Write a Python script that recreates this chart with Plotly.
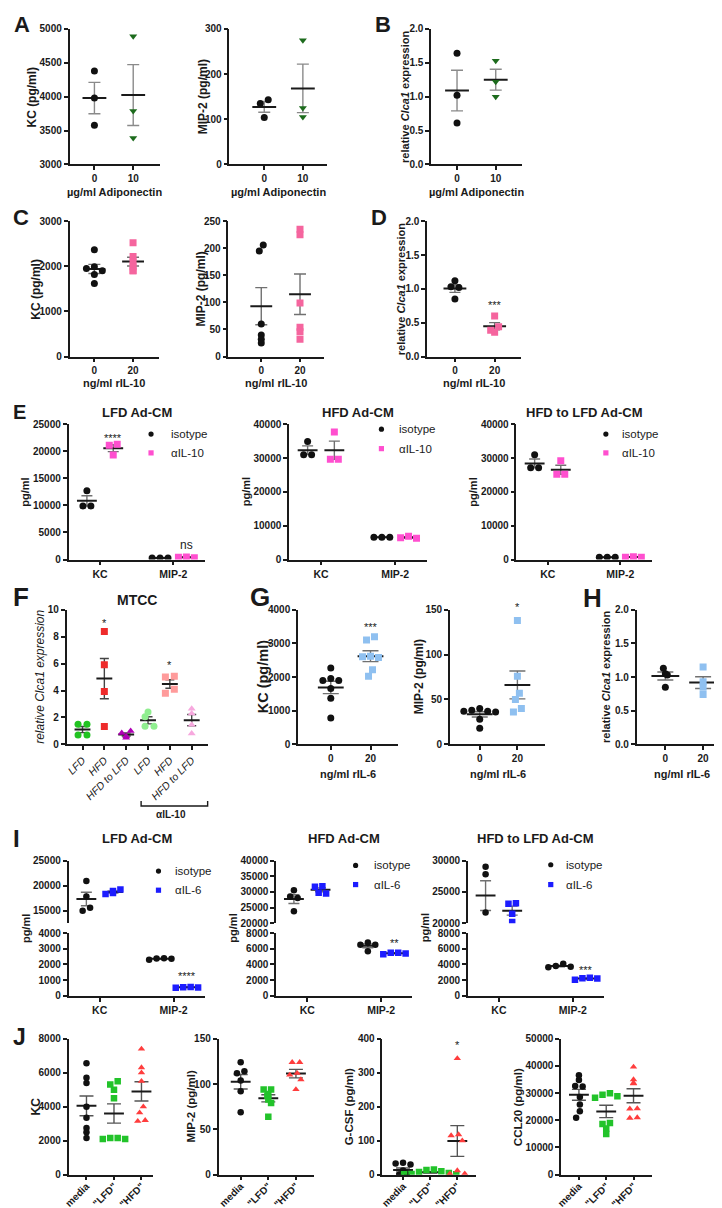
import numpy as np
import plotly.graph_objects as go

W, H = 722, 1208
FONT = "Liberation Sans, Arial, Helvetica, sans-serif"
INK = "#1a1a1a"
ERR = "#707070"

# ---------------- data ----------------
ADIPO_LEVELS = ["0", "10"]
IL10_LEVELS = ["0", "20"]
IL6_LEVELS = ["0", "20"]
CYTOKINES = ["KC", "MIP-2"]
F_GROUPS = ["LFD", "HFD", "HFD to LFD", "LFD", "HFD", "HFD to LFD"]
J_GROUPS = ["media", '"LFD"', '"HFD"']

# A / B
A_KC_0 = [4380, 3980, 3580]
A_KC_10 = [4890, 3790, 3390]
A_MIP_0 = [143, 135, 104]
A_MIP_10 = [275, 125, 105]
B_CLCA_0 = [1.64, 1.02, 0.61]
B_CLCA_10 = [1.53, 1.22, 1.00]
# C / D
C_KC_0 = [2370, 1990, 1950, 1900, 1820, 1620]
C_KC_20 = [2520, 2220, 2100, 1990, 1900, 1900]
C_MIP_0 = [206, 195, 60, 40, 32, 25]
C_MIP_20 = [235, 225, 99, 54, 46, 32]
D_CLCA_0 = [1.12, 1.03, 1.02, 0.85]
D_CLCA_20 = [0.60, 0.44, 0.39, 0.36]
# E
E_LFD_ISO_KC = [12700, 9900, 9900]
E_LFD_AB_KC = [21300, 21100, 19300]
E_LFD_ISO_MIP = [300, 300, 300]
E_LFD_AB_MIP = [450, 400, 350]
E_HFD_ISO_KC = [34900, 31000, 31000]
E_HFD_AB_KC = [37700, 29600, 29600]
E_HFD_ISO_MIP = [6600, 6600, 6600]
E_HFD_AB_MIP = [6900, 6400, 6300]
E_H2L_ISO_KC = [31000, 27100, 27100]
E_H2L_AB_KC = [29200, 25200, 25200]
E_H2L_ISO_MIP = [700, 700, 700]
E_H2L_AB_MIP = [800, 700, 700]
# F
F_LFD = [1.5, 1.5, 0.7, 0.7]
F_HFD = [8.38, 5.91, 3.93, 1.32]
F_H2L = [1.0, 0.85, 0.6, 0.5]
F_AB_LFD = [2.4, 2.05, 1.35, 1.35]
F_AB_HFD = [5.05, 5.0, 4.1, 3.8]
F_AB_H2L = [2.65, 2.3, 1.45, 0.8]
# G / H
G_KC_0 = [2270, 1960, 1900, 1900, 1660, 1370, 780]
G_KC_20 = [3200, 3100, 2620, 2600, 2580, 2220, 2020]
G_MIP_0 = [40, 38, 37, 37, 36, 28, 18]
G_MIP_20 = [138, 76, 57, 50, 40, 36]
H_CLCA_0 = [1.13, 1.05, 1.03, 0.85]
H_CLCA_20 = [1.15, 0.93, 0.85, 0.74]
# I
I_LFD_ISO_KC = [20900, 17800, 15600, 15000]
I_LFD_AB_KC = [19200, 18900, 18500, 18300]
I_LFD_ISO_MIP = [2400, 2380, 2360, 2300]
I_LFD_AB_MIP = [560, 550, 540, 520]
I_HFD_ISO_KC = [30500, 28500, 28000, 23800]
I_HFD_AB_KC = [31800, 31600, 29700, 29500]
I_HFD_ISO_MIP = [6800, 6500, 6500, 5700]
I_HFD_AB_MIP = [5500, 5500, 5400, 5300]
I_H2L_ISO_KC = [29000, 27800, 21700, 19100]
I_H2L_AB_KC = [23200, 23100, 21500, 20200]
I_H2L_ISO_MIP = [4100, 3800, 3700, 3650]
I_H2L_AB_MIP = [2300, 2250, 2200, 2050]
# J
J_KC_MEDIA = [6550, 5700, 5400, 4000, 3350, 2750, 2500, 2150]
J_KC_LFD = [5500, 5300, 5000, 4500, 2150, 2100, 2100, 2150]
J_KC_HFD = [7400, 6300, 6000, 5500, 4000, 3650, 3200, 3150]
J_MIP_MEDIA = [124, 114, 112, 104, 92, 69]
J_MIP_LFD = [94, 94, 89, 87, 83, 79, 64]
J_MIP_HFD = [124, 124, 112, 110, 105, 94]
J_GCSF_MEDIA = [35, 33, 30, 12, 1, 0, 0, 0]
J_GCSF_LFD = [15, 14, 10, 8, 5, 2, 1, 1]
J_GCSF_HFD = [342, 118, 115, 100, 12, 3, 3]
J_CCL_MEDIA = [36600, 34800, 32600, 32400, 28600, 25800, 23300, 20900]
J_CCL_LFD = [29900, 29400, 28800, 28300, 19000, 18600, 17000, 15000]
J_CCL_HFD = [39600, 35000, 33700, 33500, 24300, 24200, 21000, 20800]

# tick values
A_KC_TICKS = [3000, 3500, 4000, 4500, 5000]
A_MIP_TICKS = [0, 100, 200, 300]
CLCA_TICKS = [0.0, 0.5, 1.0, 1.5, 2.0]
C_KC_TICKS = [0, 1000, 2000, 3000]
C_MIP_TICKS = [0, 50, 100, 150, 200, 250]
E_LFD_TICKS = [0, 5000, 10000, 15000, 20000, 25000]
E_HFD_TICKS = [0, 10000, 20000, 30000, 40000]
F_TICKS = [0, 2, 4, 6, 8, 10]
G_KC_TICKS = [0, 1000, 2000, 3000, 4000]
G_MIP_TICKS = [0, 50, 100, 150]
I_LFD_TOP_TICKS = [15000, 20000, 25000]
I_LFD_BOT_TICKS = [0, 1000, 2000, 3000, 4000]
I_HFD_TOP_TICKS = [20000, 25000, 30000, 35000, 40000]
I_H2L_TOP_TICKS = [20000, 25000, 30000]
I_BOT_TICKS = [0, 2000, 4000, 6000, 8000]
J_KC_TICKS = [0, 2000, 4000, 6000, 8000]
J_MIP_TICKS = [0, 50, 100, 150]
J_GCSF_TICKS = [0, 100, 200, 300, 400]
J_CCL_TICKS = [0, 10000, 20000, 30000, 40000, 50000]

# colours
BLACK = "#111111"
DGREEN = "#1d6b1d"
PINK = "#f5659e"
MAGENTA = "#ff4fcf"
F_COLORS = ["#22c322", "#ee2b2b", "#b000b5", "#90ee90", "#ff9b9b", "#f7a8de"]
LBLUE = "#8fc0f0"
BLUE = "#1c1cff"
JGREEN = "#22c32a"
JRED = "#ff3d3d"

# ---------------- helpers ----------------
fig = go.Figure()
lay = {}
ann = []
shp = []
_n = [0]


def bfont(size=10, weight="bold", style="normal", color=INK):
    return dict(family=FONT, size=size, color=color, weight=weight, style=style)


class Ax:
    def __init__(self, xl, xr, yt, yb, xrange, yrange, yticks, ydec=0,
                 xticks=None, xtext=None, show_x=True, xangle=0, xfont=None, yfont=None,
                 xstandoff=0):
        _n[0] += 1
        k = _n[0]
        s = "" if k == 1 else str(k)
        self.x, self.y = "x" + s, "y" + s
        self.xl, self.xr, self.yt, self.yb = xl, xr, yt, yb
        self.kx = (xr - xl) / (xrange[1] - xrange[0])
        self.ky = (yb - yt) / (yrange[1] - yrange[0])
        tf = yfont or bfont(10)
        has_x = show_x and xticks is not None
        lay["xaxis" + s] = dict(
            domain=[xl / W, xr / W], range=xrange, anchor=self.y,
            showline=show_x, linecolor=INK, linewidth=1.6,
            ticks="outside" if has_x else "", ticklen=4, tickwidth=1.6, tickcolor=INK,
            tickvals=xticks if has_x else [], ticktext=xtext if has_x else [],
            showticklabels=has_x, tickfont=xfont or bfont(10), tickangle=xangle,
            ticklabelstandoff=xstandoff,
            showgrid=False, zeroline=False, fixedrange=True)
        lay["yaxis" + s] = dict(
            domain=[1 - yb / H, 1 - yt / H], range=yrange, anchor=self.x,
            showline=True, linecolor=INK, linewidth=1.6,
            ticks="outside", ticklen=4, tickwidth=1.6, tickcolor=INK,
            tickvals=yticks, ticktext=[f"{v:.{ydec}f}" for v in yticks],
            tickfont=tf, showgrid=False, zeroline=False, fixedrange=True)


def swarm(vals, ky, d):
    n = len(vals)
    order = sorted(range(n), key=lambda i: -vals[i])
    cands = [0.0]
    for k in range(1, 14):
        cands += [-k * d / 2, k * d / 2]
    pos = {}
    for i in order:
        y = vals[i] * ky
        for c in cands:
            if all((c - px) ** 2 + (y - py) ** 2 >= (0.9 * d) ** 2 for px, py in pos.values()):
                pos[i] = (c, y)
                break
    parent = {i: i for i in pos}

    def find(i):
        while parent[i] != i:
            i = parent[i]
        return i
    idx = list(pos)
    for a in idx:
        for b in idx:
            if a < b:
                (xa, ya), (xb, yb) = pos[a], pos[b]
                if (xa - xb) ** 2 + (ya - yb) ** 2 < (1.1 * d) ** 2:
                    parent[find(a)] = find(b)
    groups = {}
    for i in idx:
        groups.setdefault(find(i), []).append(i)
    out = [0.0] * n
    for g in groups.values():
        m = np.mean([pos[i][0] for i in g])
        for i in g:
            out[i] = pos[i][0] - m
    return out


def dots(ax, xc, vals, color, symbol="circle", size=7, half=12, cap=6,
         err=ERR, spacing=None):
    vals = list(vals)
    d = spacing if spacing else size + 1
    offs = swarm(vals, ax.ky, d)
    xs = [xc + o / ax.kx for o in offs]
    m = float(np.mean(vals))
    sem = float(np.std(vals, ddof=1) / np.sqrt(len(vals)))
    fig.add_trace(go.Scatter(
        x=[xc], y=[m], xaxis=ax.x, yaxis=ax.y, mode="markers",
        marker=dict(size=1, color="rgba(0,0,0,0)"),
        error_y=dict(type="data", array=[sem], visible=True, color=err,
                     thickness=1.4, width=cap), hoverinfo="skip"))
    fig.add_trace(go.Scatter(
        x=[xc - half / ax.kx, xc + half / ax.kx], y=[m, m], xaxis=ax.x, yaxis=ax.y,
        mode="lines", line=dict(color=INK, width=2), hoverinfo="skip"))
    fig.add_trace(go.Scatter(
        x=xs, y=vals, xaxis=ax.x, yaxis=ax.y, mode="markers",
        marker=dict(size=size, color=color, symbol=symbol, line=dict(width=0))))


def sig(ax, xc, vals, text, shift, size=11):
    ann.append(dict(text=text, x=xc, y=max(vals), xref=ax.x, yref=ax.y, yshift=shift,
                    showarrow=False, font=bfont(size, weight="normal"),
                    xanchor="center", yanchor="middle"))


def ytitle(ax, text, offset, size=12, weight="bold", style="normal", yc=None):
    yc = yc if yc is not None else (ax.yt + ax.yb) / 2
    ann.append(dict(text=text, x=(ax.xl - offset) / W, y=1 - yc / H, xref="paper",
                    yref="paper", textangle=-90, showarrow=False,
                    font=bfont(size, weight=weight, style=style),
                    xanchor="center", yanchor="middle"))


def label(text, cx, cy, size=11, weight="bold", xanchor="center", style="normal"):
    ann.append(dict(text=text, x=cx / W, y=1 - cy / H, xref="paper", yref="paper",
                    showarrow=False, font=bfont(size, weight=weight, style=style),
                    xanchor=xanchor, yanchor="middle"))


def xtitle(ax, text, cy, size=11):
    label(text, (ax.xl + ax.xr) / 2, cy, size)


def legend_glyph(cx, cy, color, kind, r=2.6):
    shp.append(dict(type=kind, xref="paper", yref="paper", xsizemode="pixel",
                    ysizemode="pixel", xanchor=cx / W, yanchor=1 - cy / H,
                    x0=-r, x1=r, y0=-r, y1=r, fillcolor=color, line=dict(width=0)))


def mini_legend(mx, tx, y1, y2, name2, color2):
    legend_glyph(mx, y1, BLACK, "circle")
    legend_glyph(mx, y2, color2, "rect")
    label("isotype", tx, y1, 11.5, weight="normal", xanchor="left")
    label(name2, tx, y2, 11.5, weight="normal", xanchor="left")


# ---------------- Row 1: A, B ----------------
a1 = Ax(57, 148, 15, 152, [-0.64, 1.69], [3000, 5000], A_KC_TICKS, xticks=[0, 1], xtext=ADIPO_LEVELS)
dots(a1, 0, A_KC_0, BLACK, err="#8a8a8a")
dots(a1, 1, A_KC_10, DGREEN, "triangle-down", err="#8a8a8a")
ytitle(a1, "KC (pg/ml)", 38)
xtitle(a1, "µg/ml Adiponectin", 180)

a2 = Ax(218, 316, 15, 152, [-0.9, 1.62], [0, 300], A_MIP_TICKS, xticks=[0, 1], xtext=ADIPO_LEVELS)
dots(a2, 0, A_MIP_0, BLACK, err="#8a8a8a")
dots(a2, 1, A_MIP_10, DGREEN, "triangle-down", err="#8a8a8a")
ytitle(a2, "MIP-2 (pg/ml)", 27)
xtitle(a2, "µg/ml Adiponectin", 180)

b1 = Ax(421, 513, 15, 152, [-0.67, 1.69], [0, 2], CLCA_TICKS, ydec=1, xticks=[0, 1], xtext=ADIPO_LEVELS)
dots(b1, 0, B_CLCA_0, BLACK, err="#8a8a8a")
dots(b1, 1, B_CLCA_10, DGREEN, "triangle-down", err="#8a8a8a")
ytitle(b1, "relative <i>Clca1</i> expression", 27, size=11)
xtitle(b1, "µg/ml Adiponectin", 180)

# ---------------- Row 2: C, D ----------------
c1 = Ax(57, 147, 209.3, 346, [-0.64, 1.67], [0, 3000], C_KC_TICKS, xticks=[0, 1], xtext=IL10_LEVELS)
dots(c1, 0, C_KC_0, BLACK, half=11)
dots(c1, 1, C_KC_20, PINK, "square", half=11)
ytitle(c1, "KC (pg/ml)", 34)
xtitle(c1, "ng/ml rIL-10", 373)

c2 = Ax(217, 313, 209.3, 346, [-0.846, 1.615], [0, 250], C_MIP_TICKS, xticks=[0, 1], xtext=IL10_LEVELS)
dots(c2, 0, C_MIP_0, BLACK, half=11)
dots(c2, 1, C_MIP_20, PINK, "square", half=11)
ytitle(c2, "MIP-2 (pg/ml)", 28)
xtitle(c2, "ng/ml rIL-10", 373)

d1 = Ax(417, 512, 209.3, 346, [-0.7, 1.675], [0, 2], CLCA_TICKS, ydec=1, xticks=[0, 1], xtext=IL10_LEVELS)
dots(d1, 0, D_CLCA_0, BLACK, half=11.5, cap=5.5)
dots(d1, 1, D_CLCA_20, PINK, "square", half=11.5, cap=5.5)
sig(d1, 1, D_CLCA_20, "***", 11)
ytitle(d1, "relative <i>Clca1</i> expression", 26, size=11)
xtitle(d1, "ng/ml rIL-10", 373)

# ---------------- Row 3: E ----------------
EOFF = 0.18
E_TOP, E_BOT = 414.3, 551
e_specs = [
    (56, 193, [0, 25000], E_LFD_TICKS, "LFD Ad-CM",
     E_LFD_ISO_KC, E_LFD_AB_KC, E_LFD_ISO_MIP, E_LFD_AB_MIP, (139, 157, 424.3, 443.3)),
    (278, 417, [0, 40000], E_HFD_TICKS, "HFD Ad-CM",
     E_HFD_ISO_KC, E_HFD_AB_KC, E_HFD_ISO_MIP, E_HFD_AB_MIP, (371, 387, 419.3, 439)),
    (507, 643, [0, 40000], E_HFD_TICKS, "HFD to LFD Ad-CM",
     E_H2L_ISO_KC, E_H2L_AB_KC, E_H2L_ISO_MIP, E_H2L_AB_MIP, (597, 611, 424.3, 443.3)),
]
e_axes = []
for xl, xr, yr, ticks, title, iso_kc, ab_kc, iso_mip, ab_mip, lg in e_specs:
    ax = Ax(xl, xr, E_TOP, E_BOT, [-0.43, 1.43], yr, ticks, xticks=[0, 1], xtext=CYTOKINES,
            xfont=bfont(10.5))
    dots(ax, 0 - EOFF, iso_kc, BLACK, half=10, cap=5.5)
    dots(ax, 0 + EOFF, ab_kc, MAGENTA, "square", half=10, cap=5.5)
    dots(ax, 1 - EOFF, iso_mip, BLACK, half=10, cap=5.5)
    dots(ax, 1 + EOFF, ab_mip, MAGENTA, "square", half=10, cap=5.5)
    ytitle(ax, "pg/ml", 44, size=11)
    label(title, (xl + xr) / 2, 403, 13)
    mini_legend(lg[0], lg[1], lg[2], lg[3], "αIL-10", MAGENTA)
    e_axes.append(ax)
sig(e_axes[0], 0 + EOFF, E_LFD_AB_KC, "****", 6)
sig(e_axes[0], 1 + EOFF, E_LFD_AB_MIP, "ns", 12, size=12)

# ---------------- Row 4: F, G, H ----------------
R4_TOP, R4_BOT = 601.7, 737.7
f1 = Ax(54, 196, R4_TOP, R4_BOT, [-0.727, 5.73], [0, 10], F_TICKS,
        xticks=list(range(6)), xtext=F_GROUPS, xangle=-45,
        xfont=bfont(10.5, weight="normal", style="italic"))
f_data = [F_LFD, F_HFD, F_H2L, F_AB_LFD, F_AB_HFD, F_AB_H2L]
f_sym = ["circle", "square", "triangle-up", "circle", "square", "triangle-up"]
for i, (vals, col, sym) in enumerate(zip(f_data, F_COLORS, f_sym)):
    dots(f1, i, vals, col, sym, half=8, cap=4.5, err="#444444", spacing=9)
sig(f1, 1, F_HFD, "*", 9)
sig(f1, 4, F_AB_HFD, "*", 11)
ytitle(f1, "relative Clca1 expression", 27, size=12, weight="normal", style="italic")
label("MTCC", (f1.xl + f1.xr) / 2, 591.7, 14)
# αIL-10 bracket
bx0, bx1, by, bh = 129, 196, 800, 5
shp.append(dict(type="path", xref="paper", yref="paper",
                path=f"M {bx0 / W},{1 - (by - bh) / H} L {bx0 / W},{1 - by / H} "
                     f"L {bx1 / W},{1 - by / H} L {bx1 / W},{1 - (by - bh) / H}",
                line=dict(color=INK, width=1.4)))
label("αIL-10", (bx0 + bx1) / 2 - 3, 809, 10)

g1 = Ax(287, 388, R4_TOP, R4_BOT, [-0.825, 1.7], [0, 4000], G_KC_TICKS, xticks=[0, 1], xtext=IL6_LEVELS)
dots(g1, 0, G_KC_0, BLACK, half=13, cap=8)
dots(g1, 1, G_KC_20, LBLUE, "square", half=13, cap=8)
sig(g1, 1, G_KC_20, "***", 10)
ytitle(g1, "KC (pg/ml)", 35, size=14.5)
xtitle(g1, "ng/ml rIL-6", 768)

g2 = Ax(440, 536, R4_TOP, R4_BOT, [-0.79, 1.74], [0, 150], G_MIP_TICKS, xticks=[0, 1], xtext=IL6_LEVELS)
dots(g2, 0, G_MIP_0, BLACK, half=13, cap=8)
dots(g2, 1, G_MIP_20, LBLUE, "square", half=13, cap=8)
sig(g2, 1, G_MIP_20, "*", 13)
ytitle(g2, "MIP-2 (pg/ml)", 31)
xtitle(g2, "ng/ml rIL-6", 768)

h1 = Ax(628, 720, R4_TOP, R4_BOT, [-0.76, 1.66], [0, 2], CLCA_TICKS, ydec=1, xticks=[0, 1], xtext=IL6_LEVELS)
dots(h1, 0, H_CLCA_0, BLACK, half=14, cap=8)
dots(h1, 1, H_CLCA_20, LBLUE, "square", half=14, cap=8)
ytitle(h1, "relative <i>Clca1</i> expression", 31, size=11)
xtitle(h1, "ng/ml rIL-6", 768)

# ---------------- Row 5: I (broken axes) ----------------
T_TOP, T_BOT, B_TOP, B_BOT = 855, 918.3, 928.3, 991.7
i_specs = [
    (56, 193, [12500, 25000], I_LFD_TOP_TICKS, [0, 4000], I_LFD_BOT_TICKS, "LFD Ad-CM",
     I_LFD_ISO_KC, I_LFD_AB_KC, I_LFD_ISO_MIP, I_LFD_AB_MIP, (146.5, 161, 865.7, 885)),
    (265, 402, [20000, 40000], I_HFD_TOP_TICKS, [0, 8000], I_BOT_TICKS, "HFD Ad-CM",
     I_HFD_ISO_KC, I_HFD_AB_KC, I_HFD_ISO_MIP, I_HFD_AB_MIP, (345, 362, 860, 879.3)),
    (458, 595, [20000, 30000], I_H2L_TOP_TICKS, [0, 8000], I_BOT_TICKS, "HFD to LFD Ad-CM",
     I_H2L_ISO_KC, I_H2L_AB_KC, I_H2L_ISO_MIP, I_H2L_AB_MIP, (541.5, 555, 859.3, 879.3)),
]
i_bots = []
for xl, xr, tr, tt, br, bt, title, iso_kc, ab_kc, iso_mip, ab_mip, lg in i_specs:
    top = Ax(xl, xr, T_TOP, T_BOT, [-0.42, 1.42], tr, tt, show_x=False)
    bot = Ax(xl, xr, B_TOP, B_BOT, [-0.42, 1.42], br, bt, xticks=[0, 1], xtext=CYTOKINES,
             xfont=bfont(10.5))
    dots(top, 0 - EOFF, iso_kc, BLACK, size=6.5, half=10, cap=5.5)
    dots(top, 0 + EOFF, ab_kc, BLUE, "square", size=6.5, half=10, cap=5.5)
    dots(bot, 1 - EOFF, iso_mip, BLACK, size=6.5, half=10, cap=5.5)
    dots(bot, 1 + EOFF, ab_mip, BLUE, "square", size=6.5, half=10, cap=5.5)
    ytitle(bot, "pg/ml", 43, size=11, yc=(T_TOP + B_BOT) / 2)
    label(title, (xl + xr) / 2, 833, 13)
    mini_legend(lg[0], lg[1], lg[2], lg[3], "αIL-6", BLUE)
    i_bots.append(bot)
sig(i_bots[0], 1 + EOFF, I_LFD_AB_MIP, "****", 11)
sig(i_bots[1], 1 + EOFF, I_HFD_AB_MIP, "**", 10)
sig(i_bots[2], 1 + EOFF, I_H2L_AB_MIP, "***", 8)

# ---------------- Row 6: J ----------------
J_TOP, J_BOT = 1035, 1172.3
jf = bfont(10)
j_specs = [
    (56, 141, [-0.65, 2.42], [0, 8000], J_KC_TICKS, "KC", 33, (J_KC_MEDIA, J_KC_LFD, J_KC_HFD)),
    (207, 303, [-0.8, 2.65], [0, 150], J_MIP_TICKS, "MIP-2 (pg/ml)", 28, (J_MIP_MEDIA, J_MIP_LFD, J_MIP_HFD)),
    (372, 466, [-0.76, 2.68], [0, 400], J_GCSF_TICKS, "G-CSF (pg/ml)", 34, (J_GCSF_MEDIA, J_GCSF_LFD, J_GCSF_HFD)),
    (552, 643, [-0.65, 2.66], [0, 50000], J_CCL_TICKS, "CCL20 (pg/ml)", 44, (J_CCL_MEDIA, J_CCL_LFD, J_CCL_HFD)),
]
j_axes = []
for xl, xr, xrg, yr, ticks, title, off, groups in j_specs:
    ax = Ax(xl, xr, J_TOP, J_BOT, xrg, yr, ticks, xticks=[0, 1, 2], xtext=J_GROUPS,
            xangle=-45, xfont=jf, xstandoff=-4)
    for i, (vals, col, sym) in enumerate(zip(groups, [BLACK, JGREEN, JRED],
                                              ["circle", "square", "triangle-up"])):
        dots(ax, i, vals, col, sym, size=6.5, half=10, cap=7, err="#555555")
    ytitle(ax, title, off, size=12 if title == "KC" else 11.5)
    j_axes.append(ax)
sig(j_axes[2], 2, J_GCSF_HFD, "*", 13)

# ---------------- panel letters ----------------
for t, x, y, s in [("A", 9, 11, 22), ("B", 373, 11, 22), ("C", 8, 206, 22), ("D", 369, 206, 22),
                   ("E", 7, 402, 20), ("F", 8, 589, 26), ("G", 249, 589, 26), ("H", 584, 590, 26),
                   ("I", 4, 833, 24), ("J", 7, 1033, 23)]:
    label(t, x, y, s)

fig.update_layout(**lay)
fig.update_layout(width=W, height=H, margin=dict(l=0, r=0, t=0, b=0),
                  paper_bgcolor="white", plot_bgcolor="rgba(0,0,0,0)",
                  showlegend=False, annotations=ann, shapes=shp,
                  font=dict(family=FONT, color=INK))
fig.write_html("out.html")
